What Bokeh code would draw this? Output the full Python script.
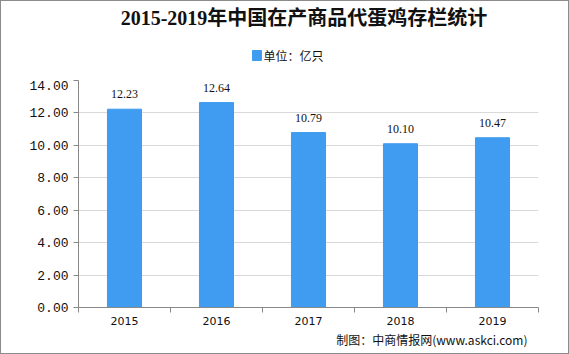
from bokeh.plotting import figure
from bokeh.layouts import column
from bokeh.models import (FixedTicker, Range1d, ColumnDataSource, LabelSet, Title,
                          NumeralTickFormatter)
from bokeh.core.properties import value
from bokeh.embed import file_html
from bokeh.resources import INLINE

years = ["2015", "2016", "2017", "2018", "2019"]
values = [12.23, 12.64, 10.79, 10.10, 10.47]
yticks = [0, 2, 4, 6, 8, 10, 12, 14]
title = "2015-2019年中国在产商品代蛋鸡存栏统计"
legend_text = "单位：亿只"
source_text = "制图：中商情报网(www.askci.com)"

W = 567
TOP_H = 79
MAIN_H = 352 - TOP_H

# --- header figure (title + legend) ---
top = figure(width=W, height=TOP_H, output_backend="svg", toolbar_location=None,
             x_range=Range1d(0, W), y_range=Range1d(0, TOP_H),
             min_border=0, min_border_left=0, min_border_right=0,
             min_border_top=0, min_border_bottom=0)
top.xaxis.visible = False
top.yaxis.visible = False
top.outline_line_color = None
top.grid.visible = False
top.border_fill_color = "white"
top.text(x=[52], y=[TOP_H - 16], text=[title], text_align="left",
         text_baseline="middle", text_font_size="20px", text_font_style="bold",
         text_font=value("Liberation Serif, Noto Sans CJK SC"), text_color="#111111")
top.rect(x=[220], y=[TOP_H - 54], width=11, height=10, color="#3f9cf0")
top.text(x=[228], y=[TOP_H - 54], text=[legend_text], text_baseline="middle",
         text_font_size="12px", text_font=value("Noto Sans CJK SC"), text_color="#111111")

# --- main chart ---
xs = [i + 0.5 for i in range(len(years))]
src = ColumnDataSource(dict(x=xs, top=values, lab=[f"{v:.2f}" for v in values]))

p = figure(width=W, height=MAIN_H, output_backend="svg", toolbar_location=None,
           x_range=Range1d(0, len(years)), y_range=Range1d(0, 14),
           min_border_left=77, min_border_right=30, min_border_top=0,
           min_border_bottom=MAIN_H - 227)
p.outline_line_color = None
p.background_fill_color = "white"
p.border_fill_color = "white"

p.vbar(x="x", top="top", width=0.37, source=src, color="#3f9cf0")
p.add_layout(LabelSet(x="x", y="top", text="lab", source=src, text_align="center",
                      y_offset=11, text_font_size="12px", text_font="Liberation Mono",
                      text_color="#111111"))

p.xgrid.visible = False
p.ygrid.ticker = FixedTicker(ticks=yticks)
p.ygrid.grid_line_color = "#d9d9d9"

p.yaxis.ticker = FixedTicker(ticks=yticks)
p.yaxis.formatter = NumeralTickFormatter(format="0.00")
p.yaxis.major_label_text_font = "Liberation Mono"
p.yaxis.major_label_text_font_size = "13px"
p.yaxis.major_label_text_color = "#111111"
p.yaxis.axis_line_color = "#888888"
p.yaxis.major_tick_line_color = "#888888"
p.yaxis.major_tick_in = 0
p.yaxis.major_tick_out = 5
p.yaxis.minor_tick_line_color = None

p.xaxis.ticker = FixedTicker(ticks=xs, minor_ticks=list(range(len(years) + 1)))
p.xaxis.major_label_overrides = {x: y for x, y in zip(xs, years)}
p.xaxis.major_tick_in = 0
p.xaxis.major_tick_out = 0
p.xaxis.minor_tick_in = 0
p.xaxis.minor_tick_out = 5
p.xaxis.minor_tick_line_color = "#888888"
p.xaxis.axis_line_color = "#888888"
p.xaxis.major_label_text_font = "DejaVu Sans"
p.xaxis.major_label_text_font_size = "11px"
p.xaxis.major_label_text_color = "#111111"
p.xaxis.major_label_standoff = 4

p.add_layout(Title(text=source_text, align="right", offset=11, standoff=3,
                   text_font_size="12px", text_font_style="normal",
                   text_font="Noto Sans CJK SC", text_color="#111111"), "below")

layout = column(top, p, spacing=0, styles={"border": "1px solid #8c8c8c"})

open("out.html", "w").write(file_html(layout, INLINE))
